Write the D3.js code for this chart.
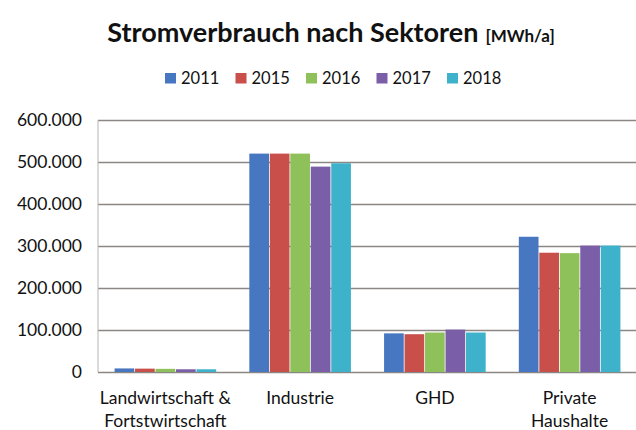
<!DOCTYPE html>
<html>
<head>
<meta charset="utf-8">
<script src="https://cdn.jsdelivr.net/npm/d3@7"></script>
<style>
  body { margin: 0; background: #fff; }
  svg { display: block; font-family: Lato, "Open Sans", sans-serif; }
</style>
</head>
<body>
<div id="chart"></div>
<script>
// data
const sectors = [['Landwirtschaft &', 'Fortstwirtschaft'], ['Industrie'], ['GHD'], ['Private', 'Haushalte']];
const years = ['2011', '2015', '2016', '2017', '2018'];
const v2011 = [8500, 520000, 92000, 322000];
const v2015 = [8000, 520000, 90000, 284000];
const v2016 = [7500, 520000, 94000, 283000];
const v2017 = [6500, 489000, 101000, 301000];
const v2018 = [6500, 497000, 94000, 301000];
const yTicks = [0, 100000, 200000, 300000, 400000, 500000, 600000];
const colors = ['#4677c0', '#c94f4b', '#8fc15a', '#7b5ea8', '#3eb2cb'];

const series = [v2011, v2015, v2016, v2017, v2018];

function mkModel() {
  let model = {
    width: 636,
    height: 430,
    left: 98,
    right: 637,
    top: 120,
    bottom: 372
  };

  model.x = d3.scaleBand()
    .domain(d3.range(sectors.length))
    .range([model.left, model.right])
    .paddingInner(0.24)
    .paddingOuter(0.12);

  model.xs = d3.scaleBand()
    .domain(years)
    .range([0, model.x.bandwidth()]);

  model.y = d3.scaleLinear()
    .domain([0, 600000])
    .range([model.bottom, model.top]);

  model.fmt = d3.formatLocale({ decimal: ',', thousands: '.', grouping: [3], currency: ['', '€'] }).format(',d');

  return model;
}

function header(svg, model) {
  let title = svg.append('text')
    .attr('x', 331)
    .attr('y', 42)
    .attr('text-anchor', 'middle')
    .attr('fill', '#111');
  title.append('tspan')
    .attr('font-size', 27)
    .attr('font-weight', 'bold')
    .text('Stromverbrauch nach Sektoren');
  title.append('tspan')
    .attr('font-size', 17)
    .attr('font-weight', 'bold')
    .attr('dx', 7)
    .text('[MWh/a]');

  let legend = svg.selectAll('.legend').data(years)
    .join('g')
    .attr('class', 'legend')
    .attr('transform', (d, i) => 'translate(' + (165 + i * 70.5) + ',73)');

  legend.append('rect')
    .attr('width', 11)
    .attr('height', 10.5)
    .attr('fill', (d, i) => colors[i]);

  legend.append('text')
    .attr('x', 16)
    .attr('y', 10.5)
    .attr('font-size', 16.5)
    .attr('fill', '#111')
    .text((d) => d);
}

function grid(svg, model) {
  svg.append('g')
    .attr('transform', 'translate(' + model.left + ',0)')
    .call(d3.axisLeft(model.y).tickValues(yTicks).tickSize(-(model.right - model.left)).tickFormat(''))
    .call((g) => g.select('.domain').remove())
    .call((g) => g.selectAll('line').attr('stroke', '#8b8785').attr('stroke-width', 1.3));

  svg.append('line')
    .attr('x1', model.left)
    .attr('x2', model.left)
    .attr('y1', model.top)
    .attr('y2', model.bottom)
    .attr('stroke', '#b5b5b5')
    .attr('stroke-width', 1);

  svg.append('g')
    .attr('transform', 'translate(82,0)')
    .call(d3.axisLeft(model.y).tickValues(yTicks).tickSize(0).tickPadding(0).tickFormat(model.fmt))
    .call((g) => g.select('.domain').remove())
    .call((g) => g.selectAll('text')
      .attr('font-size', 17.5)
      .attr('font-family', 'Lato, sans-serif')
      .attr('fill', '#111'));
}

function bars(svg, model) {
  let groups = svg.selectAll('.group').data(sectors)
    .join('g')
    .attr('class', 'group')
    .attr('transform', (d, i) => 'translate(' + model.x(i) + ',0)');

  groups.selectAll('rect')
    .data((d, i) => series.map((s, j) => ({ year: years[j], value: s[i], color: colors[j] })))
    .join('rect')
    .attr('x', (d) => model.xs(d.year) + 0.4)
    .attr('width', model.xs.bandwidth() - 0.8)
    .attr('y', (d) => model.y(d.value))
    .attr('height', (d) => model.y(0) - model.y(d.value))
    .attr('fill', (d) => d.color);

  let labels = svg.selectAll('.cat').data(sectors)
    .join('text')
    .attr('class', 'cat')
    .attr('text-anchor', 'middle')
    .attr('font-size', 17.5)
    .attr('fill', '#111')
    .attr('x', (d, i) => model.x(i) + model.x.bandwidth() / 2)
    .attr('y', 404);

  labels.selectAll('tspan')
    .data((d) => d)
    .join('tspan')
    .attr('x', function () { return this.parentNode.getAttribute('x'); })
    .attr('dy', (d, i) => i === 0 ? 0 : 22.5)
    .text((d) => d);
}

function main() {
  let model = mkModel();
  let svg = d3.select('#chart').append('svg')
    .attr('width', model.width)
    .attr('height', model.height);

  header(svg, model);
  grid(svg, model);
  bars(svg, model);
}

main();
</script>
</body>
</html>
